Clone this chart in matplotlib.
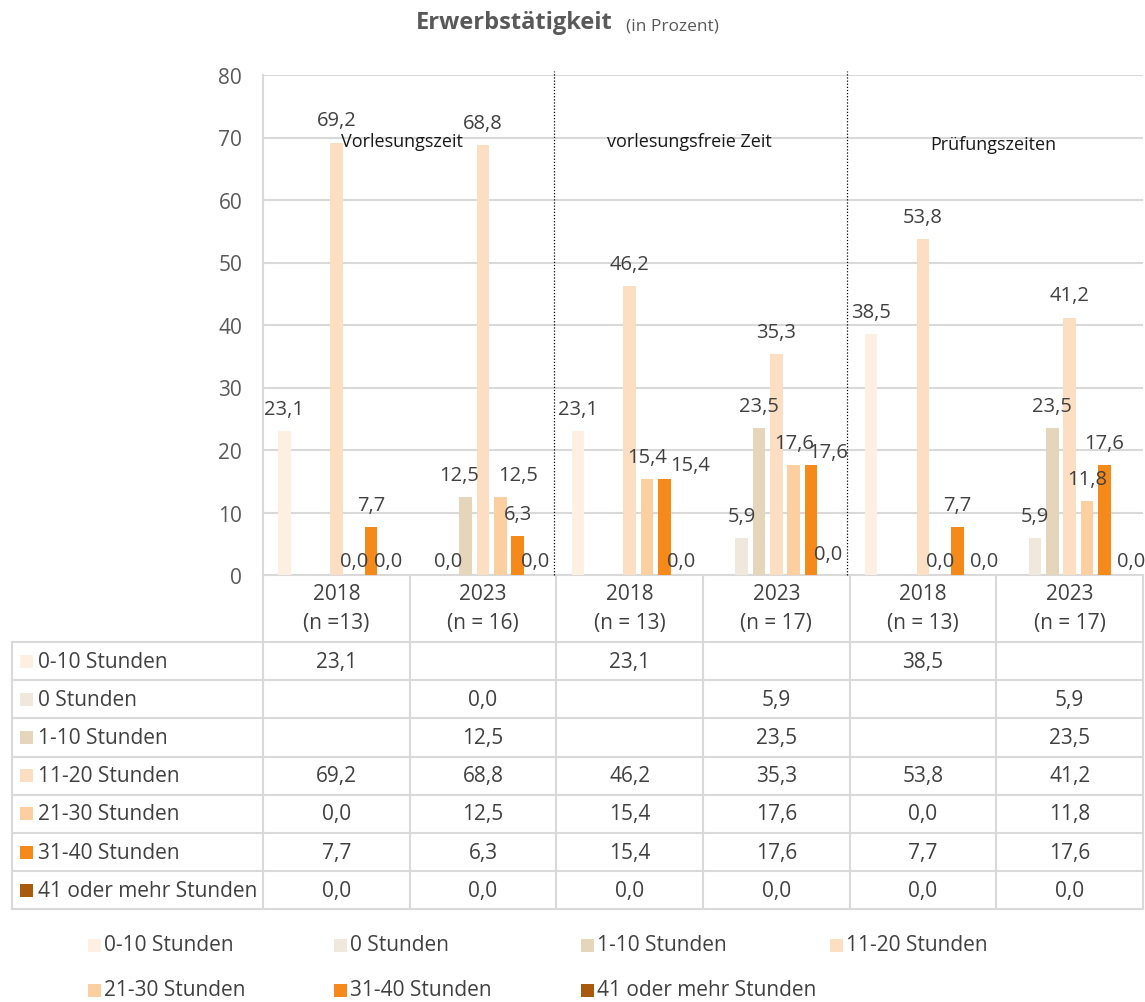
import matplotlib.pyplot as plt
from matplotlib.patches import Rectangle
import numpy as np

plt.rcParams['font.family'] = ['Open Sans', 'DejaVu Sans']

# Daten
years = ["2018", "2023", "2018", "2023", "2018", "2023"]
n_labels = ["(n =13)", "(n = 16)", "(n = 13)", "(n = 17)", "(n = 13)", "(n = 17)"]
periods = ["Vorlesungszeit", "vorlesungsfreie Zeit", "Prüfungszeiten"]
series_names = ["0-10 Stunden", "0 Stunden", "1-10 Stunden", "11-20 Stunden",
                "21-30 Stunden", "31-40 Stunden", "41 oder mehr Stunden"]
nan = np.nan
s_0_10 = [23.1, nan, 23.1, nan, 38.5, nan]
s_0 = [nan, 0.0, nan, 5.9, nan, 5.9]
s_1_10 = [nan, 12.5, nan, 23.5, nan, 23.5]
s_11_20 = [69.2, 68.8, 46.2, 35.3, 53.8, 41.2]
s_21_30 = [0.0, 12.5, 15.4, 17.6, 0.0, 11.8]
s_31_40 = [7.7, 6.3, 15.4, 17.6, 7.7, 17.6]
s_41 = [0.0, 0.0, 0.0, 0.0, 0.0, 0.0]
values = [s_0_10, s_0, s_1_10, s_11_20, s_21_30, s_31_40, s_41]
colors = ["#FDF0E2", "#F0E8DD", "#E5D5BB", "#FCDEC2", "#FBCFA0", "#F58A1B", "#A85A0E"]

# Verschiebung einzelner Beschriftungen (Serie, Gruppe) -> (dx, dy) in Pixeln
label_nudge = {(2, 1): (-7, 0), (4, 1): (18, 0), (5, 2): (26, -8),
               (5, 3): (17, -9), (6, 3): (0, 7), (6, 4): (9, 0), (6, 5): (10, 0)}

W, H = 1145, 1003
fig = plt.figure(figsize=(W / 100, H / 100), dpi=100)

# Overlay in Pixelkoordinaten fuer Titel, Tabelle, Legende
ov = fig.add_axes([0, 0, 1, 1])
ov.set_xlim(0, W)
ov.set_ylim(H, 0)
ov.axis('off')

left, right, top, base = 263, 1143, 76, 576
ax = fig.add_axes([left / W, (H - base) / H, (right - left) / W, (base - top) / H])
ax.set_facecolor('none')

txt = "#404040"
grid = "#D9D9D9"
fs = 15
slot = 17.3 / 146.7
bw = 12.5 / 146.7
idx = np.arange(len(years))

for k, (vals, col) in enumerate(zip(values, colors)):
    vals = np.array(vals, dtype=float)
    ok = ~np.isnan(vals)
    xs = idx[ok] + (k - 3) * slot
    ax.bar(xs, vals[ok], width=bw, color=col, zorder=3)
    for g, x, v in zip(idx[ok], xs, vals[ok]):
        dx, dy = label_nudge.get((k, g), (0, 0))
        off = 12 if v > 0 else 4
        ax.annotate(f"{v:.1f}".replace('.', ','), (x, v), xytext=(dx, off + dy),
                    textcoords='offset pixels', ha='center', va='bottom',
                    fontsize=14.5, color=txt, zorder=4)

ax.set_xlim(-0.5, len(years) - 0.5)
ax.set_ylim(0, 80)
ax.set_yticks(np.arange(0, 81, 10))
ax.set_xticks([])
ax.tick_params(axis='y', length=0, pad=15, labelsize=fs, labelcolor="#595959")
ax.grid(axis='y', color=grid, lw=1.5, zorder=0)
for s in ['top', 'right', 'bottom']:
    ax.spines[s].set_visible(False)
ax.spines['left'].set_color(grid)
ax.spines['left'].set_linewidth(1.5)

for xb in [1.5, 3.5]:
    ax.axvline(xb - 0.015, ymin=0, ymax=1.008, color='black', ls=(0, (1, 1.5)), lw=0.9,
               clip_on=False, zorder=2)

period_pos = [(0.447, 69.4), (2.41, 69.4), (4.476, 69.0)]
for (px, py), name in zip(period_pos, periods):
    ax.text(px, py, name, ha='center', va='center', fontsize=13, color='#1a1a1a', zorder=5)

# Titel
ov.text(416, 23, "Erwerbstätigkeit", fontsize=17, fontweight='bold', color="#595959",
        ha='left', va='center')
ov.text(626, 26, "(in Prozent)", fontsize=12.5, color="#595959", ha='left', va='center')

# Datentabelle
col_w = (right - left) / len(years)
row_top, row_h = 643, 38.2
nrows = len(series_names)
row_bot = row_top + nrows * row_h
tl = 12
lw = 1.5
ov.plot([left, right], [base, base], color=grid, lw=lw)
for r in range(nrows + 1):
    y = row_top + r * row_h
    ov.plot([tl, right], [y, y], color=grid, lw=lw)
ov.plot([tl, tl], [row_top, row_bot], color=grid, lw=lw)
for c in range(len(years) + 1):
    x = left + c * col_w
    ov.plot([x, x], [base, row_bot], color=grid, lw=lw)

for c, (yr, nl) in enumerate(zip(years, n_labels)):
    cx = left + (c + 0.5) * col_w
    ov.text(cx, 595, yr, ha='center', va='center', fontsize=fs, color=txt)
    ov.text(cx, 624, nl, ha='center', va='center', fontsize=fs, color=txt)

for r, (name, vals, col) in enumerate(zip(series_names, values, colors)):
    cy = row_top + (r + 0.5) * row_h
    ov.add_patch(Rectangle((20, cy - 6.5), 13, 13, color=col, lw=0))
    ov.text(38, cy, name, ha='left', va='center', fontsize=fs, color=txt)
    for c, v in enumerate(vals):
        if not np.isnan(v):
            ov.text(left + (c + 0.5) * col_w, cy, f"{v:.1f}".replace('.', ','),
                    ha='center', va='center', fontsize=fs, color=txt)

# Legende
leg_x = [88, 334, 581, 830]
leg_y = [946, 991]
for i, (name, col) in enumerate(zip(series_names, colors)):
    lx = leg_x[i % 4]
    ly = leg_y[i // 4]
    ov.add_patch(Rectangle((lx, ly - 6.5), 13, 13, color=col, lw=0))
    ov.text(lx + 16, ly, name, ha='left', va='center', fontsize=fs, color=txt)

fig.savefig("out.png", dpi=100)
